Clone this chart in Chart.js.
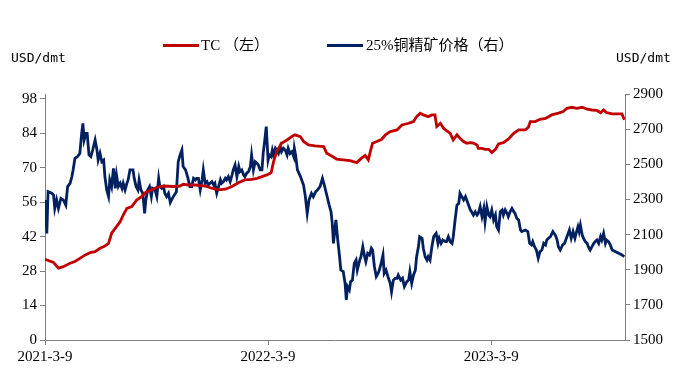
<!DOCTYPE html>
<html>
<head>
<meta charset="utf-8">
<script src="https://cdn.jsdelivr.net/npm/chart.js@4.4.0/dist/chart.umd.min.js"></script>
<style>
  body { margin: 0; background: #fff; }
  #caixa { position: relative; width: 679px; height: 378px; }
  #caixa canvas { position: absolute; left: 0; top: 0; }
  .txt { position: absolute; white-space: nowrap; color: #000; }
  .serif { font-family: "Liberation Serif", "Noto Sans CJK SC", serif; font-size: 15px; line-height: 15px; }
  .mono { font-family: "DejaVu Sans Mono", monospace; font-size: 13px; line-height: 13px; }
  .linha { position: absolute; height: 3px; }
</style>
</head>
<body>
<div id="caixa">
  <canvas id="chart_cobre" width="679" height="378"></canvas>
  <div class="txt mono" style="left:11px; top:51px;">USD/dmt</div>
  <div class="txt mono" style="left:616px; top:51px;">USD/dmt</div>
  <div class="linha" style="left:163px; top:44px; width:36px; background:#C00000;"></div>
  <div class="txt serif" style="left:201px; top:38px;">TC （左）</div>
  <div class="linha" style="left:327px; top:44px; width:36px; background:#002060;"></div>
  <div class="txt serif" style="left:366px; top:38px;">25%铜精矿价格（右）</div>
</div>
<script>
// dias contados a partir de 2021-3-9
var tickDias = [0, 365, 730];
var tickLabels = ['2021-3-9', '2022-3-9', '2023-3-9'];

// TC (eixo esquerdo)
var diasTC = [0, 14, 22, 30, 41, 49, 57, 66, 74, 82, 90, 98, 104, 109, 117, 123, 128, 134, 142, 150,
  158, 166, 175, 183, 194, 210, 221, 226, 237, 246, 262, 273, 284, 295, 306, 317, 327, 338, 347, 355,
  363, 370, 374, 379, 387, 396, 404, 409, 418, 423, 431, 442, 456, 461, 469, 475, 477, 488, 499, 510,
  518, 524, 529, 533, 536, 543, 551, 557, 565, 576, 584, 595, 603, 608, 614, 619, 627, 633, 638, 641,
  647, 652, 657, 663, 668, 674, 679, 685, 690, 696, 701, 707, 709, 715, 720, 726, 731, 737, 742, 750,
  758, 767, 775, 786, 791, 794, 802, 810, 819, 829, 840, 848, 854, 862, 870, 879, 887, 895, 903, 909,
  914, 919, 928, 936, 944, 948];
var valoresTC = [32.8, 31.5, 29.2, 29.8, 31.2, 31.9, 33.2, 34.6, 35.5, 35.9, 37.3, 38.2, 39.3, 43.4, 46.1, 48.1, 50.8, 53.5, 54.2, 56.9,
  58.3, 60.3, 61.0, 62.1, 62.6, 62.4, 62.6, 63.3, 63.0, 63.0, 62.6, 61.7, 61.0, 61.3, 62.4, 64.0, 65.1, 65.3, 65.7, 66.4,
  67.1, 68.0, 72.5, 76.6, 80.0, 81.3, 82.7, 83.4, 82.7, 80.7, 79.3, 78.9, 78.6, 75.9, 74.8, 73.9, 73.5, 73.2, 72.9, 72.1,
  73.9, 75.0, 73.2, 77.3, 80.0, 80.7, 81.6, 83.4, 84.7, 85.4, 87.4, 88.1, 88.8, 90.8, 92.2, 91.5, 90.8, 91.5, 91.5, 86.8,
  88.1, 86.1, 85.1, 84.0, 81.3, 83.4, 82.0, 80.7, 80.0, 80.2, 80.0, 79.3, 77.9, 77.9, 77.5, 77.5, 76.2, 77.5, 79.7, 80.2,
  81.6, 84.0, 85.4, 85.4, 86.5, 88.8, 88.8, 89.7, 90.1, 91.5, 92.2, 92.9, 94.2, 94.6, 94.2, 94.6, 93.8, 93.5, 93.3, 92.4,
  93.5, 92.4, 91.9, 91.9, 91.9, 89.5];

// 25% cobre (eixo direito)
var diasCobre = [0, 3, 5, 11, 14, 16, 19, 22, 26, 30, 34, 37, 41, 44, 46, 49, 53, 57, 60, 62,
  64, 67, 69, 72, 75, 78, 82, 85, 87, 90, 93, 96, 98, 101, 104, 106, 109, 112, 115, 117,
  120, 123, 126, 128, 131, 134, 136, 139, 144, 146, 149, 152, 154, 157, 160, 163, 165, 168, 171, 174,
  176, 180, 183, 186, 188, 191, 194, 196, 199, 202, 205, 207, 210, 215, 218, 221, 224, 226, 230, 234,
  237, 240, 243, 246, 248, 251, 254, 257, 259, 262, 265, 267, 270, 273, 276, 278, 281, 284, 287, 289,
  292, 295, 297, 300, 303, 306, 308, 311, 314, 317, 319, 322, 325, 327, 330, 333, 336, 338, 341, 344,
  347, 349, 352, 355, 357, 359, 362, 365, 367, 370, 372, 374, 377, 379, 382, 385, 387, 390, 393, 396,
  398, 401, 404, 407, 408, 410, 413, 418, 423, 426, 429, 432, 436, 439, 443, 446, 450, 454, 457, 461,
  465, 468, 470, 472, 476, 479, 482, 484, 488, 491, 493, 495, 498, 500, 503, 506, 509, 511, 515, 517,
  520, 523, 525, 528, 531, 534, 536, 539, 542, 545, 547, 550, 553, 555, 558, 562, 565, 567, 570, 573,
  576, 578, 582, 585, 588, 592, 595, 597, 600, 603, 606, 608, 611, 613, 617, 619, 622, 625, 627, 630,
  633, 636, 640, 643, 645, 648, 651, 655, 657, 660, 663, 666, 668, 671, 674, 677, 679, 682, 685, 688,
  690, 693, 696, 698, 701, 704, 707, 709, 712, 715, 718, 720, 723, 726, 728, 731, 734, 737, 739, 742,
  745, 748, 750, 753, 756, 758, 761, 764, 767, 769, 772, 775, 778, 780, 786, 790, 793, 796, 798, 801,
  804, 807, 810, 813, 816, 819, 821, 824, 827, 831, 835, 838, 840, 843, 847, 850, 854, 858, 861, 864,
  867, 869, 872, 874, 876, 879, 881, 884, 887, 889, 892, 895, 898, 900, 903, 906, 909, 911, 914, 917,
  919, 922, 925, 928, 933, 939, 944, 948];
var valoresCobre = [2297, 2107, 2344, 2335, 2325, 2249, 2297, 2249, 2306, 2297, 2268, 2373, 2392, 2430, 2468, 2534, 2543, 2562, 2676, 2733,
  2638, 2676, 2676, 2553, 2543, 2581, 2638, 2581, 2524, 2562, 2515, 2524, 2430, 2354, 2316, 2411, 2373, 2477, 2363, 2439,
  2373, 2392, 2363, 2392, 2354, 2392, 2411, 2468, 2468, 2420, 2373, 2354, 2411, 2354, 2335, 2221, 2297, 2354, 2373, 2316,
  2363, 2354, 2316, 2420, 2373, 2363, 2373, 2335, 2316, 2335, 2282, 2297, 2316, 2344, 2515, 2553, 2581, 2487, 2468, 2420,
  2373, 2373, 2420, 2411, 2420, 2420, 2354, 2411, 2468, 2392, 2401, 2382, 2392, 2401, 2382, 2392, 2335, 2373, 2411, 2392,
  2401, 2420, 2411, 2430, 2401, 2439, 2468, 2496, 2430, 2487, 2458, 2468, 2439, 2430, 2449, 2458, 2487, 2553, 2468, 2515,
  2505, 2496, 2468, 2468, 2562, 2619, 2714, 2524, 2553, 2543, 2581, 2553, 2591, 2581, 2562, 2600, 2572, 2591, 2581, 2553,
  2591, 2562, 2572, 2543, 2591, 2553, 2468, 2430, 2382, 2316, 2221, 2297, 2335, 2316, 2344, 2354, 2373, 2420, 2382, 2325,
  2268, 2230, 2164, 2050, 2183, 2069, 1974, 1898, 1889, 1822, 1728, 1804, 1785, 1832, 1841, 1936, 1955, 1898, 1955, 1974,
  2031, 1974, 1946, 1993, 1984, 2022, 2012, 1917, 1861, 1879, 1898, 1936, 1984, 1879, 1898, 1851, 1822, 1775, 1841, 1851,
  1851, 1870, 1841, 1851, 1804, 1832, 1841, 1889, 1822, 1870, 1898, 1974, 2031, 2088, 2079, 2022, 1974, 1955, 1974, 1955,
  2031, 2088, 2107, 2050, 2079, 2050, 2069, 2060, 2060, 2088, 2060, 2050, 2088, 2183, 2268, 2278, 2335, 2316, 2297, 2316,
  2297, 2268, 2240, 2230, 2211, 2230, 2211, 2221, 2259, 2202, 2249, 2173, 2259, 2211, 2202, 2240, 2183, 2211, 2145, 2126,
  2230, 2240, 2211, 2240, 2221, 2202, 2230, 2249, 2230, 2221, 2192, 2183, 2126, 2117, 2126, 2117, 2050, 2041, 2060, 2031,
  2012, 1965, 2003, 2012, 2050, 2041, 2069, 2079, 2088, 2117, 2097, 2069, 2031, 2012, 2041, 2050, 2088, 2126, 2079, 2117,
  2079, 2107, 2145, 2117, 2154, 2097, 2079, 2060, 2050, 2031, 2012, 2031, 2050, 2060, 2069, 2050, 2088, 2069, 2107, 2050,
  2069, 2060, 2041, 2012, 2003, 1993, 1984, 1974];

var corEixo = '#7f7f7f';
var fonteEixo = { family: 'Liberation Serif', size: 15 };

function pares(dias, valores) {
  return dias.map(function (d, i) { return { x: d, y: valores[i] }; });
}

const config = {
  type: 'line',
  data: {
    datasets: [{
      label: 'TC （左）',
      data: pares(diasTC, valoresTC),
      borderColor: '#C00000',
      borderWidth: 2.8,
      pointRadius: 0,
      tension: 0,
      yAxisID: 'yEsq'
    }, {
      label: '25%铜精矿价格（右）',
      data: pares(diasCobre, valoresCobre),
      borderColor: '#002060',
      borderWidth: 2.8,
      pointRadius: 0,
      tension: 0,
      yAxisID: 'yDir'
    }]
  },
  options: {
    responsive: false,
    animation: false,
    devicePixelRatio: 1,
    layout: { padding: { top: 94, left: 0, right: 0, bottom: 0 } },
    plugins: { legend: { display: false }, tooltip: { enabled: false } },
    scales: {
      x: {
        type: 'linear',
        min: 0,
        max: 949,
        afterBuildTicks: function (s) { s.ticks = tickDias.map(function (v) { return { value: v }; }); },
        afterFit: function (s) { s.height = 38; },
        ticks: {
          autoSkip: false, maxRotation: 0, padding: 3, color: '#000', font: fonteEixo,
          callback: function (v) { return tickLabels[tickDias.indexOf(v)]; }
        },
        grid: { drawOnChartArea: false, tickLength: 5, tickColor: corEixo },
        border: { color: corEixo, width: 1 }
      },
      yEsq: {
        position: 'left',
        min: 0,
        max: 100,
        afterBuildTicks: function (s) {
          var t = [];
          for (var v = 0; v <= 98; v += 14) t.push({ value: v });
          s.ticks = t;
        },
        afterFit: function (s) { s.width = 45; },
        ticks: { padding: 3, color: '#000', font: fonteEixo },
        grid: { drawOnChartArea: false, tickLength: 5, tickColor: corEixo },
        border: { color: corEixo, width: 1 }
      },
      yDir: {
        position: 'right',
        min: 1500,
        max: 2900,
        ticks: {
          stepSize: 200, padding: 3, color: '#000', font: fonteEixo,
          callback: function (v) { return String(v); }
        },
        afterFit: function (s) { s.width = 54; },
        grid: { drawOnChartArea: false, tickLength: 5, tickColor: corEixo },
        border: { color: corEixo, width: 1 }
      }
    }
  }
};

let chart_cobre = new Chart(document.getElementById('chart_cobre'), config);
</script>
</body>
</html>
